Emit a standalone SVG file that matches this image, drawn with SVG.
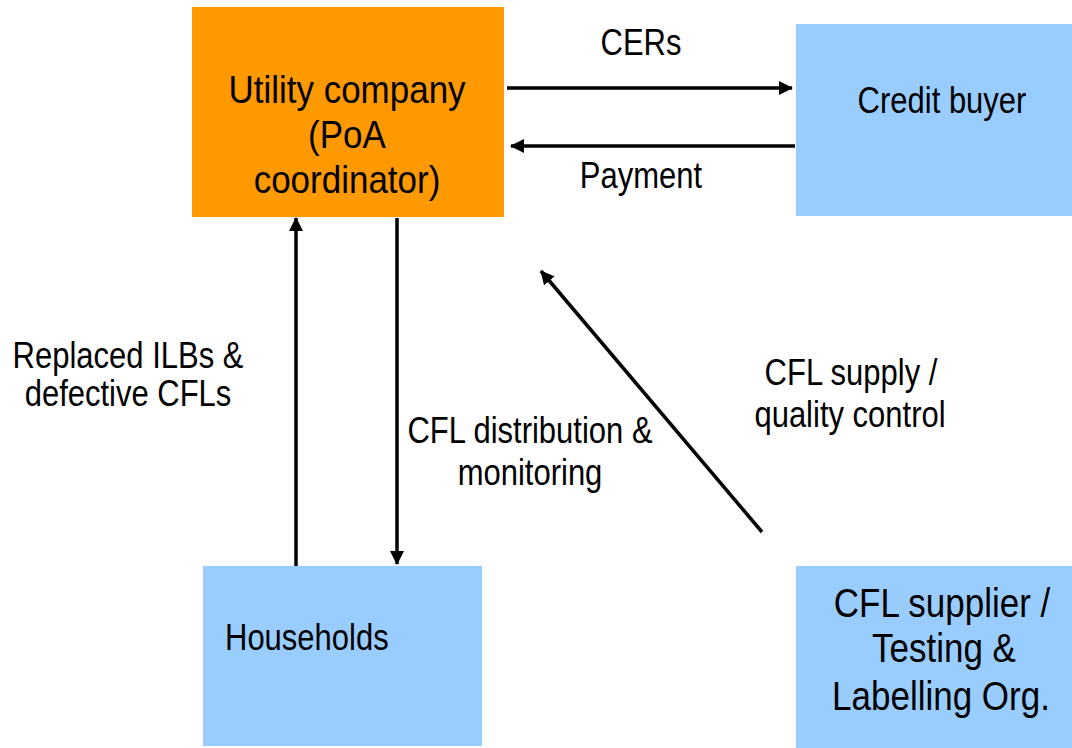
<svg xmlns="http://www.w3.org/2000/svg" width="1072" height="748" viewBox="0 0 1072 748">
<style>
.t{font-family:"Liberation Sans",Arial,sans-serif;font-size:31px;fill:#000;text-anchor:middle}
.l{text-anchor:start}
.orange{fill:#FF9900}
.blue{fill:#99CCFF}
.c{stroke:#000;stroke-width:3.5;fill:none;marker-end:url(#ah)}
</style>
<defs>
<marker id="ah" markerUnits="userSpaceOnUse" markerWidth="14" markerHeight="14" refX="13" refY="7" orient="auto">
<path d="M0,0 L14,7 L0,14 z" fill="#000"/>
</marker>
</defs>
<rect width="1072" height="748" fill="#fff"/>
<g id="utility">
<rect class="orange" x="192" y="7" width="312" height="210"/>
<text class="t" style="font-size:35px" transform="translate(347,103) scale(1,1.12)">Utility company</text>
<text class="t" style="font-size:35px" transform="translate(347,148) scale(1,1.12)">(PoA</text>
<text class="t" style="font-size:35px" transform="translate(347,193) scale(1,1.12)">coordinator)</text>
</g>
<g id="credit-buyer">
<rect class="blue" x="796" y="24" width="276" height="192"/>
<text class="t" transform="translate(942,113) scale(1,1.22)">Credit buyer</text>
</g>
<g id="households">
<rect class="blue" x="203" y="566" width="279" height="180"/>
<text class="t l" transform="translate(225,650) scale(1,1.18)">Households</text>
</g>
<g id="cfl-supplier">
<rect class="blue" x="796" y="566" width="276" height="182"/>
<text class="t" style="font-size:35px" transform="translate(942,617) scale(1,1.18)">CFL supplier /</text>
<text class="t" style="font-size:35px" transform="translate(944,662) scale(1,1.18)">Testing &amp;</text>
<text class="t" style="font-size:35px" transform="translate(941,710) scale(1,1.18)">Labelling Org.</text>
</g>
<g id="connectors">
<line class="c" x1="507" y1="88" x2="792" y2="88"/>
<line class="c" x1="795" y1="146" x2="511" y2="146"/>
<line class="c" x1="296" y1="566" x2="296" y2="218"/>
<line class="c" x1="397" y1="218" x2="397" y2="564"/>
<line class="c" x1="762" y1="532" x2="541" y2="271"/>
<text class="t" transform="translate(641,55) scale(1,1.22)">CERs</text>
<text class="t" transform="translate(641,188) scale(1,1.18)">Payment</text>
<text class="t" transform="translate(128,368) scale(1,1.18)">Replaced ILBs &amp;</text>
<text class="t" transform="translate(128,406) scale(1,1.18)">defective CFLs</text>
<text class="t" transform="translate(530,443) scale(1,1.18)">CFL distribution &amp;</text>
<text class="t" transform="translate(530,485) scale(1,1.18)">monitoring</text>
<text class="t" transform="translate(851,385) scale(1,1.18)">CFL supply /</text>
<text class="t" transform="translate(850,427) scale(1,1.18)">quality control</text>
</g>
</svg>
